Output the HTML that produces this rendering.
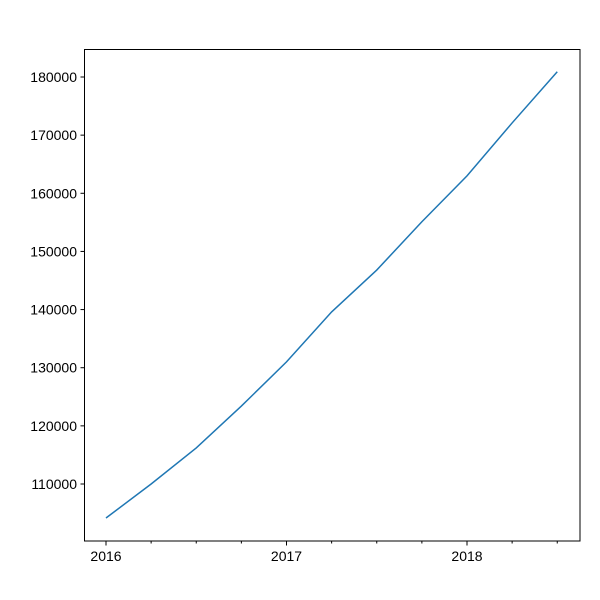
<!DOCTYPE html>
<html><head><meta charset="utf-8"><style>
body{margin:0;background:#fff}
svg{display:block;font-family:"Liberation Sans","DejaVu Sans",sans-serif}
</style></head><body>
<svg id="chart" width="600" height="600">
<rect x="0" y="0" width="600" height="600" fill="#fff"/>
<g id="axes"></g>
<path id="line" fill="none" stroke="#1f77b4" stroke-width="1.5"/>
<rect x="84.5" y="49.5" width="495.5" height="491.5" fill="none" stroke="#000" stroke-width="1"/>
</svg>
<script>
const quarters = [0,1,2,3,4,5,6,7,8,9,10];
const values = [104150,110000,116200,123400,131000,139600,146800,155100,163000,172100,180900];
const yTicks = [110000,120000,130000,140000,150000,160000,170000,180000];
const xTickQuarters = [0,1,2,3,4,5,6,7,8,9,10];
const xLabels = ["2016","","","","2017","","","","2018","",""];

const NS="http://www.w3.org/2000/svg";
function xs(q){return 106+q*45.125;}
function ys(v){return 484-(v-110000)*407/70000;}
const axes=document.getElementById('axes');
yTicks.forEach(v=>{
  const y=ys(v);
  const t=document.createElementNS(NS,'line');
  t.setAttribute('x1',80.5);t.setAttribute('x2',84.5);t.setAttribute('y1',y);t.setAttribute('y2',y);t.setAttribute('stroke','#000');
  
  
  axes.appendChild(t);
  const l=document.createElementNS(NS,'text');
  l.setAttribute('x',77);l.setAttribute('y',y+5);l.setAttribute('text-anchor','end');l.setAttribute('font-size','14');
  l.textContent=v;
  
  
  axes.appendChild(l);
});
xTickQuarters.forEach((q,i)=>{
  const x=xs(q);
  const t=document.createElementNS(NS,'line');
  t.setAttribute('x1',x);t.setAttribute('x2',x);t.setAttribute('y1',541);t.setAttribute('y2',xLabels[i]?545.5:543.5);t.setAttribute('stroke','#000');
  
  
  axes.appendChild(t);
  if(xLabels[i]){
    const l=document.createElementNS(NS,'text');
    l.setAttribute('x',x);l.setAttribute('y',561);l.setAttribute('text-anchor','middle');l.setAttribute('font-size','14');
    l.textContent=xLabels[i];
    
    
    axes.appendChild(l);
  }
});
document.getElementById('line').setAttribute('d',quarters.map((q,i)=>(i?'L':'M')+xs(q)+','+ys(values[i])).join(' '));
</script>
</body></html>
